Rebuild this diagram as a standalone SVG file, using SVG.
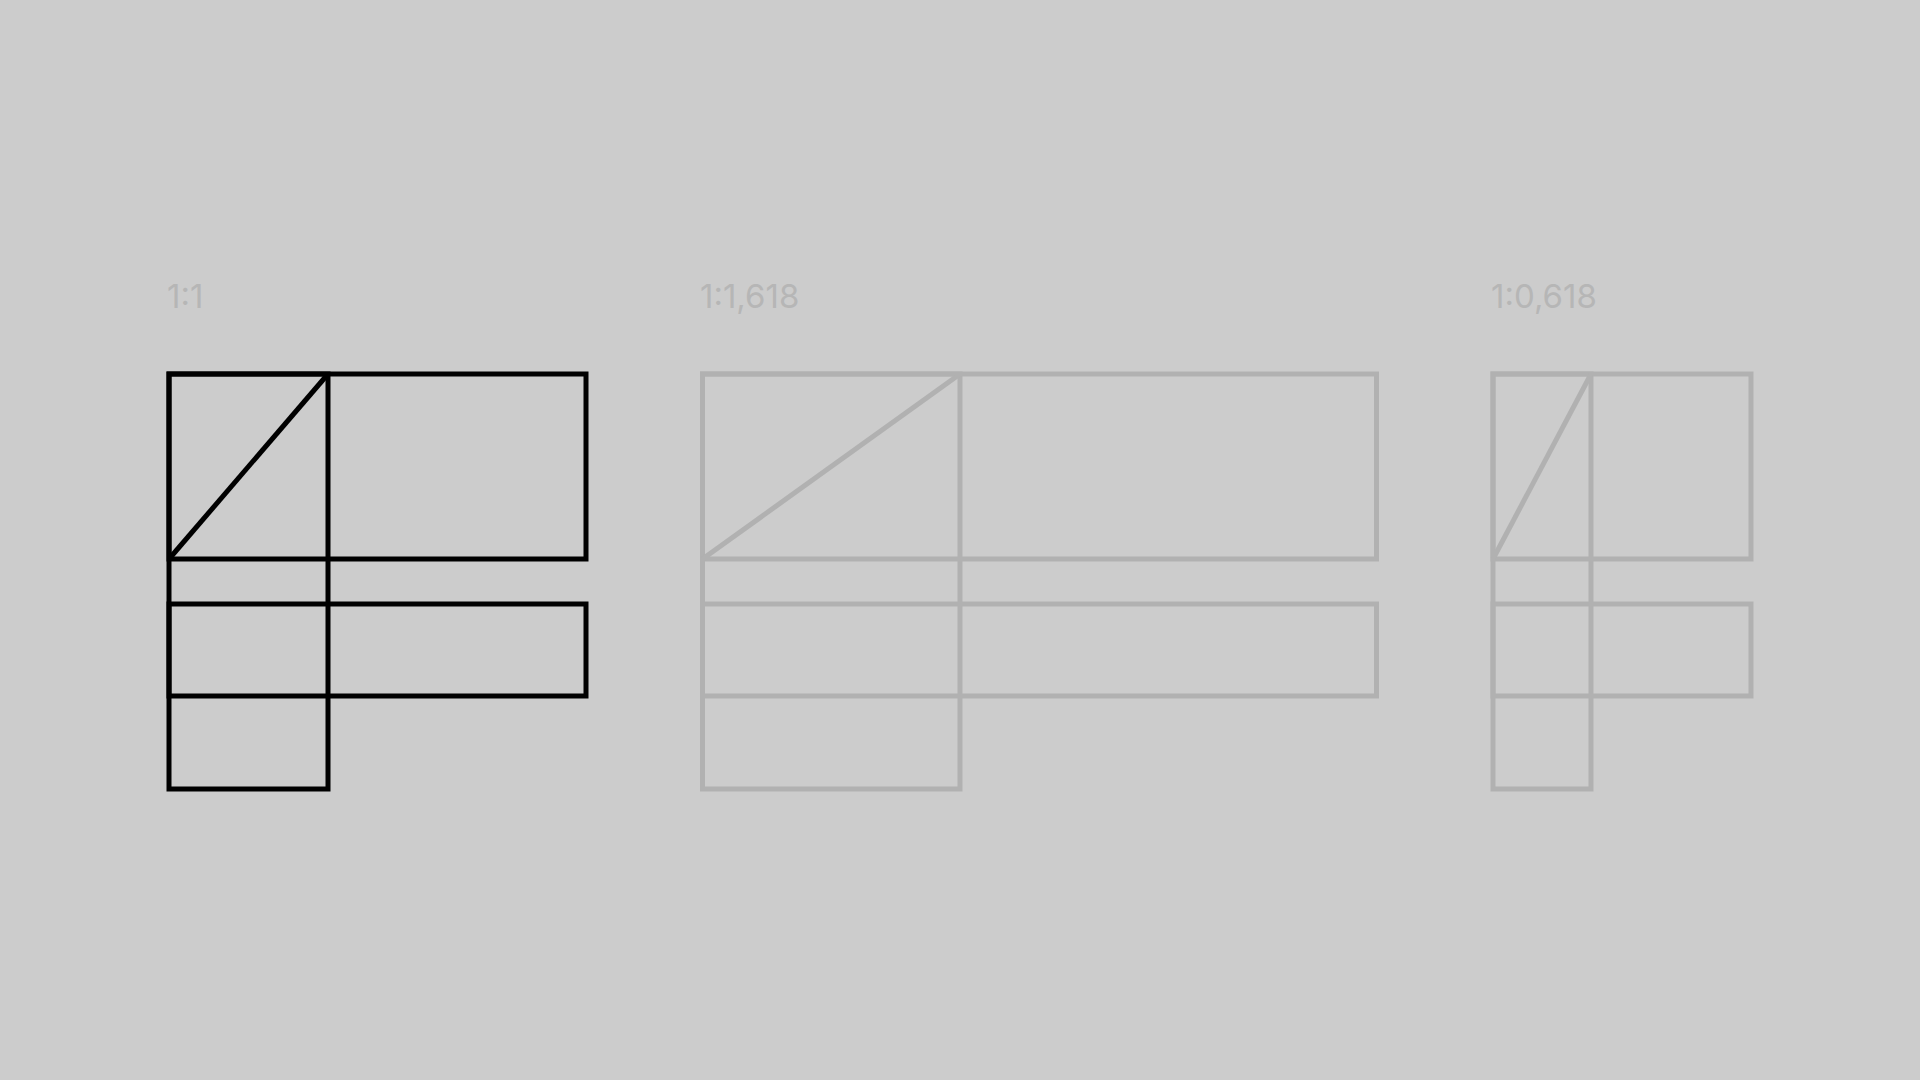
<svg xmlns="http://www.w3.org/2000/svg" width="1920" height="1080" viewBox="0 0 1920 1080">
  <style>
    .lbl { font-family: Inter, "Liberation Sans", sans-serif; font-size: 33px; fill: #b6b6b6; }
    .blk { fill: none; stroke: #000000; stroke-width: 5; }
    .gry { fill: none; stroke: #b1b1b1; stroke-width: 5; }
  </style>
  <rect width="1920" height="1080" fill="#cccccc"/>
  <g id="ratio-1-1">
    <text class="lbl" x="167" y="308">1:1</text>
    <g class="blk">
      <rect x="169" y="374" width="417" height="185"/>
      <rect x="169" y="604" width="417" height="92"/>
      <rect x="169" y="374" width="159" height="415"/>
      <line x1="169" y1="559" x2="328" y2="374"/>
    </g>
  </g>
  <g id="ratio-1-1618">
    <text class="lbl" x="700" y="308">1:1,618</text>
    <g class="gry">
      <rect x="702.5" y="374" width="674" height="185"/>
      <rect x="702.5" y="604" width="674" height="92"/>
      <rect x="702.5" y="374" width="257.5" height="415"/>
      <line x1="702.5" y1="559" x2="960" y2="374"/>
    </g>
  </g>
  <g id="ratio-1-0618">
    <text class="lbl" x="1491" y="308">1:0,618</text>
    <g class="gry">
      <rect x="1493" y="374" width="258" height="185"/>
      <rect x="1493" y="604" width="258" height="92"/>
      <rect x="1493" y="374" width="98" height="415"/>
      <line x1="1493" y1="559" x2="1591" y2="374"/>
    </g>
  </g>
  <g id="connectors"/>
</svg>
